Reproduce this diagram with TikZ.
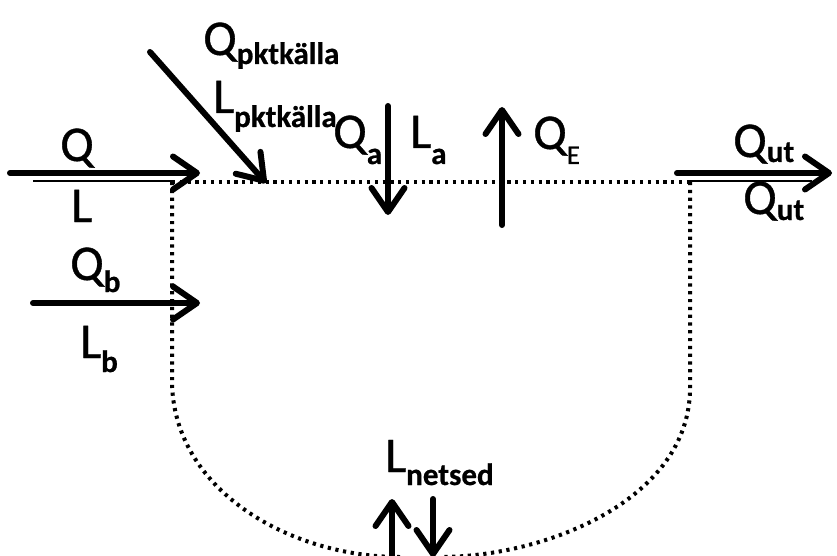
\documentclass[tikz,border=0pt]{standalone}
\usepackage{fontspec}
\setmainfont{Carlito}
\newfontfamily\heavyfont[FakeBold=0.7]{Carlito}
\usetikzlibrary{arrows.meta}
\newcommand\subt[2][14pt]{\raisebox{-#1}{\fontsize{31}{31}\selectfont\bfseries #2}}
\newcommand\subr[2][14pt]{\raisebox{-#1}{\fontsize{27}{27}\selectfont #2}}
\tikzset{
  lbl/.style={anchor=base west,inner sep=0pt,font=\fontsize{50}{50}\heavyfont},
  flow/.style={line width=6pt,line cap=round,line join=round,
     -{Straight Barb[length=24pt,width=33pt,line cap=round,line join=round]}},
  thinline/.style={line width=1.8pt},
  border/.style={line width=4pt,dash pattern=on 3.2pt off 4.6pt}
}
\begin{document}
\begin{tikzpicture}[x=1pt,y=-1pt]
\useasboundingbox (0,0) rectangle (837,556);
% boundary
\coordinate (tl) at (172,182);
\coordinate (tr) at (690,182);
\coordinate (lv) at (172,380);
\coordinate (rv) at (690,388);
\coordinate (bl) at (400,557);
\coordinate (br) at (440,557);
\draw[border] (tl) -- (tr);
\draw[border] (tl) -- (lv) .. controls (172,490) and (290,557) .. (bl);
\draw[border] (tr) -- (rv) .. controls (690,500) and (545,557) .. (br);
% Q / L inflow
\coordinate (qs) at (10,173); \coordinate (qe) at (200,173);
\draw[flow] (qs) -- (qe);
\coordinate (ls) at (33,181); \coordinate (le) at (175,181);
\draw[thinline] (ls) -- (le);
\node[lbl] (Q) at (60,161) {Q};
\node[lbl] (L) at (71,222) {L};
% point source
\coordinate (ps) at (150,52); \coordinate (pe) at (266,183);
\draw[flow] (ps) -- (pe);
\node[lbl] (Qp) at (203,55) {Q\subt[9pt]{pktkälla}};
\node[lbl] (Lp) at (213,113) {L\subt[14pt]{pktkälla}};
% Q_a / L_a
\coordinate (as) at (388,106); \coordinate (ae) at (388,215);
\draw[flow] (as) -- (ae);
\node[lbl] (Qa) at (333,148) {Q\subt[16pt]{a}};
\node[lbl] (La) at (410,148) {L\subt[16pt]{a}};
% Q_E
\coordinate (es) at (502,225); \coordinate (ee) at (502,107);
\draw[flow] (es) -- (ee);
\node[lbl] (QE) at (533,149) {Q\subr[15pt]{E}};
% Q_ut
\coordinate (us) at (677,173); \coordinate (ue) at (832,173);
\draw[flow] (us) -- (ue);
\coordinate (uls) at (690,181); \coordinate (ule) at (812,181);
\draw[thinline] (uls) -- (ule);
\node[lbl] (Qut1) at (733,157) {Q\subt[5pt]{ut}};
\node[lbl] (Qut2) at (743,214) {Q\subt[6pt]{ut}};
% Q_b / L_b
\coordinate (bs) at (33,303); \coordinate (be) at (200,303);
\draw[flow] (bs) -- (be);
\node[lbl] (Qb) at (70,280) {Q\subt[12pt]{b}};
\node[lbl] (Lb) at (80,358) {L\subt[14pt]{b}};
% L_netsed
\node[lbl] (Ln) at (385,472) {L\subt[13pt]{netsed}};
\coordinate (n1s) at (392,560); \coordinate (n1e) at (392,499);
\draw[flow] (n1s) -- (n1e);
\coordinate (n2s) at (433,499); \coordinate (n2e) at (433,557);
\draw[flow] (n2s) -- (n2e);
\end{tikzpicture}
\end{document}
